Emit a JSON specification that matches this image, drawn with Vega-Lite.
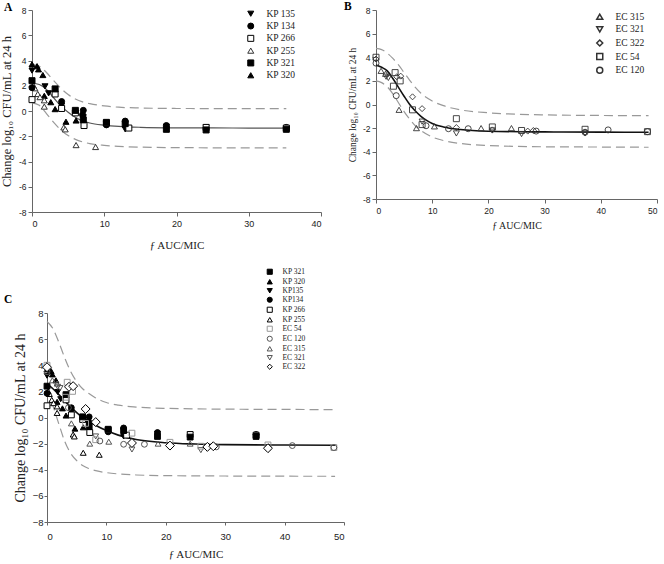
{
"$schema":"https://vega.github.io/schema/vega-lite/v6.json",
"padding":{"left":0,"top":0,"right":0,"bottom":0},
"autosize":{"type":"pad"},
"config":{"view":{"stroke":null},
"axis":{"grid":false,"domainColor":"#666","tickColor":"#666","labelFont":"Liberation Sans","titleFont":"Liberation Serif","titleFontWeight":"normal","labelColor":"#222","titleColor":"#222","tickSize":4},
"title":{"font":"Liberation Serif","fontWeight":"bold","color":"black","orient":"top","anchor":"start","frame":"group","fontSize":11.5},
"legend":{"orient":"none","padding":0,"labelFont":"Liberation Serif","labelColor":"#222","symbolSize":36,"title":null}},
"resolve":{"scale":{"shape":"independent","fill":"independent","stroke":"independent","strokeWidth":"independent"},"legend":{"shape":"independent","fill":"independent","stroke":"independent","strokeWidth":"independent"}},
"align":"none",
"datasets":{
"pts":[
{"s":"KP 320","x":0,"y":3.7},{"s":"KP 320","x":0.7,"y":3.55},{"s":"KP 320","x":0.9,"y":3.3},{"s":"KP 320","x":1.5,"y":2.85},{"s":"KP 320","x":1.7,"y":1.2},{"s":"KP 320","x":2.6,"y":0.7},{"s":"KP 320","x":3.2,"y":0.15},{"s":"KP 320","x":4.7,"y":-0.85},{"s":"KP 320","x":6.1,"y":-0.75},
{"s":"KP 255","x":0.2,"y":2.0},{"s":"KP 255","x":0.4,"y":1.8},{"s":"KP 255","x":0.8,"y":1.35},{"s":"KP 255","x":1.1,"y":1.1},{"s":"KP 255","x":1.7,"y":0.85},{"s":"KP 255","x":1.7,"y":0.35},{"s":"KP 255","x":4.4,"y":-1.3},{"s":"KP 255","x":4.6,"y":-1.45},{"s":"KP 255","x":6.1,"y":-2.7},{"s":"KP 255","x":8.8,"y":-2.85},
{"s":"KP 135","x":0,"y":3.2},{"s":"KP 135","x":1.8,"y":1.95},{"s":"KP 135","x":2.3,"y":1.4},{"s":"KP 135","x":4.1,"y":0.4},{"s":"KP 135","x":7.1,"y":-0.5},{"s":"KP 135","x":10.3,"y":-1.05},{"s":"KP 135","x":12.9,"y":-1.45},{"s":"KP 135","x":18.6,"y":-1.25},{"s":"KP 135","x":24.1,"y":-1.3},
{"s":"KP 134","x":0,"y":1.85},{"s":"KP 134","x":4.1,"y":0.75},{"s":"KP 134","x":7.1,"y":0.05},{"s":"KP 134","x":7.0,"y":-0.3},{"s":"KP 134","x":10.3,"y":-1.1},{"s":"KP 134","x":12.9,"y":-0.8},{"s":"KP 134","x":18.6,"y":-1.15},{"s":"KP 134","x":35.2,"y":-1.3},
{"s":"KP 266","x":0,"y":0.9},{"s":"KP 266","x":3.2,"y":1.35},{"s":"KP 266","x":4.1,"y":0.2},{"s":"KP 266","x":6.0,"y":-0.15},{"s":"KP 266","x":7.2,"y":-1.15},{"s":"KP 266","x":10.3,"y":-0.95},{"s":"KP 266","x":13.4,"y":-1.35},{"s":"KP 266","x":24.1,"y":-1.3},{"s":"KP 266","x":35.2,"y":-1.35},
{"s":"KP 321","x":0,"y":2.4},{"s":"KP 321","x":3.2,"y":1.75},{"s":"KP 321","x":6.0,"y":0.05},{"s":"KP 321","x":7.1,"y":-0.7},{"s":"KP 321","x":10.3,"y":-0.9},{"s":"KP 321","x":12.9,"y":-1.0},{"s":"KP 321","x":18.6,"y":-1.45},{"s":"KP 321","x":24.1,"y":-1.5},{"s":"KP 321","x":35.2,"y":-1.45},
{"s":"EC 315","x":0.9,"y":2.85},{"s":"EC 315","x":1.7,"y":2.6},{"s":"EC 315","x":4.1,"y":-0.45},{"s":"EC 315","x":7.2,"y":-2.0},{"s":"EC 315","x":10.4,"y":-1.85},{"s":"EC 315","x":18.7,"y":-2.0},{"s":"EC 315","x":24.1,"y":-2.0},
{"s":"EC 321","x":1.8,"y":2.35},{"s":"EC 321","x":2.2,"y":2.25},{"s":"EC 321","x":8.2,"y":-1.45},{"s":"EC 321","x":14.3,"y":-2.45},{"s":"EC 321","x":20.7,"y":-2.2},{"s":"EC 321","x":25.9,"y":-2.5},{"s":"EC 321","x":37.2,"y":-2.45},
{"s":"EC 322","x":0,"y":3.85},{"s":"EC 322","x":3.7,"y":2.35},{"s":"EC 322","x":4.4,"y":2.4},{"s":"EC 322","x":6.5,"y":0.65},{"s":"EC 322","x":8.2,"y":-0.35},{"s":"EC 322","x":14.3,"y":-1.95},{"s":"EC 322","x":20.7,"y":-2.15},{"s":"EC 322","x":27.0,"y":-2.25},{"s":"EC 322","x":28.0,"y":-2.2},{"s":"EC 322","x":37.2,"y":-2.35},
{"s":"EC 54","x":0,"y":4.0},{"s":"EC 54","x":3.4,"y":2.7},{"s":"EC 54","x":3.1,"y":1.55},{"s":"EC 54","x":4.3,"y":2.0},{"s":"EC 54","x":6.5,"y":-0.45},{"s":"EC 54","x":8.2,"y":-1.7},{"s":"EC 54","x":14.3,"y":-1.2},{"s":"EC 54","x":20.7,"y":-1.9},{"s":"EC 54","x":25.9,"y":-2.2},{"s":"EC 54","x":37.2,"y":-2.1},{"s":"EC 54","x":48.3,"y":-2.3},
{"s":"EC 120","x":0,"y":3.5},{"s":"EC 120","x":3.6,"y":0.75},{"s":"EC 120","x":8.9,"y":-1.8},{"s":"EC 120","x":12.9,"y":-2.05},{"s":"EC 120","x":16.4,"y":-2.05},{"s":"EC 120","x":28.5,"y":-2.25},{"s":"EC 120","x":37.2,"y":-2.35},{"s":"EC 120","x":41.3,"y":-2.15},{"s":"EC 120","x":48.3,"y":-2.3}
],
"curves":[
{"p":"A","c":"fit","x":0,"y":2.2},{"p":"A","c":"fit","x":1,"y":2.1},{"p":"A","c":"fit","x":2,"y":1.7},{"p":"A","c":"fit","x":3,"y":1.05},{"p":"A","c":"fit","x":4,"y":0.4},{"p":"A","c":"fit","x":5,"y":-0.1},{"p":"A","c":"fit","x":6,"y":-0.5},{"p":"A","c":"fit","x":7,"y":-0.78},{"p":"A","c":"fit","x":8,"y":-0.95},{"p":"A","c":"fit","x":10,"y":-1.12},{"p":"A","c":"fit","x":12,"y":-1.22},{"p":"A","c":"fit","x":15,"y":-1.29},{"p":"A","c":"fit","x":20,"y":-1.33},{"p":"A","c":"fit","x":25,"y":-1.34},{"p":"A","c":"fit","x":30,"y":-1.35},{"p":"A","c":"fit","x":35.2,"y":-1.35},
{"p":"A","c":"up","x":0,"y":3.7},{"p":"A","c":"up","x":1,"y":3.55},{"p":"A","c":"up","x":2,"y":3.05},{"p":"A","c":"up","x":3,"y":2.4},{"p":"A","c":"up","x":4,"y":1.8},{"p":"A","c":"up","x":5,"y":1.3},{"p":"A","c":"up","x":6,"y":0.95},{"p":"A","c":"up","x":7,"y":0.72},{"p":"A","c":"up","x":8,"y":0.58},{"p":"A","c":"up","x":10,"y":0.4},{"p":"A","c":"up","x":12,"y":0.3},{"p":"A","c":"up","x":15,"y":0.24},{"p":"A","c":"up","x":20,"y":0.2},{"p":"A","c":"up","x":30,"y":0.19},{"p":"A","c":"up","x":35.2,"y":0.19},
{"p":"A","c":"lo","x":0,"y":0.65},{"p":"A","c":"lo","x":1,"y":0.45},{"p":"A","c":"lo","x":2,"y":-0.2},{"p":"A","c":"lo","x":3,"y":-0.9},{"p":"A","c":"lo","x":4,"y":-1.5},{"p":"A","c":"lo","x":5,"y":-1.95},{"p":"A","c":"lo","x":6,"y":-2.25},{"p":"A","c":"lo","x":7,"y":-2.45},{"p":"A","c":"lo","x":8,"y":-2.58},{"p":"A","c":"lo","x":10,"y":-2.72},{"p":"A","c":"lo","x":12,"y":-2.8},{"p":"A","c":"lo","x":15,"y":-2.86},{"p":"A","c":"lo","x":20,"y":-2.9},{"p":"A","c":"lo","x":30,"y":-2.92},{"p":"A","c":"lo","x":35.2,"y":-2.92},
{"p":"B","c":"fit","x":0,"y":3.35},{"p":"B","c":"fit","x":1,"y":3.15},{"p":"B","c":"fit","x":2,"y":2.85},{"p":"B","c":"fit","x":3,"y":2.2},{"p":"B","c":"fit","x":4,"y":1.45},{"p":"B","c":"fit","x":5,"y":0.7},{"p":"B","c":"fit","x":6,"y":0.0},{"p":"B","c":"fit","x":7,"y":-0.55},{"p":"B","c":"fit","x":8,"y":-1.0},{"p":"B","c":"fit","x":9,"y":-1.35},{"p":"B","c":"fit","x":10,"y":-1.6},{"p":"B","c":"fit","x":12,"y":-1.9},{"p":"B","c":"fit","x":15,"y":-2.12},{"p":"B","c":"fit","x":20,"y":-2.26},{"p":"B","c":"fit","x":30,"y":-2.32},{"p":"B","c":"fit","x":40,"y":-2.34},{"p":"B","c":"fit","x":48.5,"y":-2.35},
{"p":"B","c":"up","x":0,"y":4.75},{"p":"B","c":"up","x":1,"y":4.65},{"p":"B","c":"up","x":2,"y":4.35},{"p":"B","c":"up","x":3,"y":3.9},{"p":"B","c":"up","x":4,"y":3.35},{"p":"B","c":"up","x":5,"y":2.7},{"p":"B","c":"up","x":6,"y":2.05},{"p":"B","c":"up","x":7,"y":1.45},{"p":"B","c":"up","x":8,"y":0.95},{"p":"B","c":"up","x":10,"y":0.3},{"p":"B","c":"up","x":12,"y":-0.1},{"p":"B","c":"up","x":15,"y":-0.45},{"p":"B","c":"up","x":20,"y":-0.7},{"p":"B","c":"up","x":30,"y":-0.88},{"p":"B","c":"up","x":40,"y":-0.93},{"p":"B","c":"up","x":48.5,"y":-0.95},
{"p":"B","c":"lo","x":0,"y":2.0},{"p":"B","c":"lo","x":1,"y":1.85},{"p":"B","c":"lo","x":2,"y":1.5},{"p":"B","c":"lo","x":3,"y":0.9},{"p":"B","c":"lo","x":4,"y":0.15},{"p":"B","c":"lo","x":5,"y":-0.6},{"p":"B","c":"lo","x":6,"y":-1.25},{"p":"B","c":"lo","x":7,"y":-1.8},{"p":"B","c":"lo","x":8,"y":-2.2},{"p":"B","c":"lo","x":10,"y":-2.75},{"p":"B","c":"lo","x":12,"y":-3.05},{"p":"B","c":"lo","x":15,"y":-3.3},{"p":"B","c":"lo","x":20,"y":-3.47},{"p":"B","c":"lo","x":30,"y":-3.58},{"p":"B","c":"lo","x":40,"y":-3.6},{"p":"B","c":"lo","x":48.5,"y":-3.62},
{"p":"C","c":"fit","x":0,"y":2.6},{"p":"C","c":"fit","x":1,"y":2.2},{"p":"C","c":"fit","x":2,"y":1.75},{"p":"C","c":"fit","x":3,"y":1.25},{"p":"C","c":"fit","x":4,"y":0.8},{"p":"C","c":"fit","x":5,"y":0.38},{"p":"C","c":"fit","x":6,"y":0.0},{"p":"C","c":"fit","x":7,"y":-0.3},{"p":"C","c":"fit","x":8,"y":-0.55},{"p":"C","c":"fit","x":10,"y":-1.0},{"p":"C","c":"fit","x":12,"y":-1.35},{"p":"C","c":"fit","x":15,"y":-1.68},{"p":"C","c":"fit","x":20,"y":-1.93},{"p":"C","c":"fit","x":25,"y":-2.03},{"p":"C","c":"fit","x":30,"y":-2.08},{"p":"C","c":"fit","x":40,"y":-2.11},{"p":"C","c":"fit","x":48.5,"y":-2.12},
{"p":"C","c":"up","x":0,"y":7.35},{"p":"C","c":"up","x":1,"y":6.8},{"p":"C","c":"up","x":2,"y":5.75},{"p":"C","c":"up","x":3,"y":4.55},{"p":"C","c":"up","x":4,"y":3.5},{"p":"C","c":"up","x":5,"y":2.75},{"p":"C","c":"up","x":6,"y":2.2},{"p":"C","c":"up","x":7,"y":1.85},{"p":"C","c":"up","x":8,"y":1.55},{"p":"C","c":"up","x":10,"y":1.15},{"p":"C","c":"up","x":12,"y":0.95},{"p":"C","c":"up","x":15,"y":0.8},{"p":"C","c":"up","x":20,"y":0.7},{"p":"C","c":"up","x":30,"y":0.64},{"p":"C","c":"up","x":40,"y":0.62},{"p":"C","c":"up","x":48.5,"y":0.6},
{"p":"C","c":"lo","x":0,"y":2.2},{"p":"C","c":"lo","x":1,"y":0.9},{"p":"C","c":"lo","x":2,"y":-0.5},{"p":"C","c":"lo","x":3,"y":-1.85},{"p":"C","c":"lo","x":4,"y":-2.75},{"p":"C","c":"lo","x":5,"y":-3.3},{"p":"C","c":"lo","x":6,"y":-3.68},{"p":"C","c":"lo","x":7,"y":-3.9},{"p":"C","c":"lo","x":8,"y":-4.05},{"p":"C","c":"lo","x":10,"y":-4.22},{"p":"C","c":"lo","x":12,"y":-4.32},{"p":"C","c":"lo","x":15,"y":-4.4},{"p":"C","c":"lo","x":20,"y":-4.45},{"p":"C","c":"lo","x":30,"y":-4.48},{"p":"C","c":"lo","x":48.5,"y":-4.5}
]},
"spacing":18,
"vconcat":[
{"hconcat":[
{"width":289,"height":202,
"title":{"text":"A","offset":-7,"dx":-28},
"encoding":{
"x":{"field":"x","type":"quantitative","scale":{"domain":[0,40],"nice":false},"axis":{"title":"ƒ AUC/MIC","values":[0,10,20,30,40],"labelFontSize":9,"titleFontSize":11,"labelPadding":3,"titlePadding":11}},
"y":{"field":"y","type":"quantitative","scale":{"domain":[-8,8],"nice":false},"axis":{"title":"Change log₁₀ CFU/mL at 24 h","values":[-8,-6,-4,-2,0,2,4,6,8],"labelExpr":"replace(datum.label,'−','-')","labelFontSize":8.5,"titleFontSize":12.5,"labelPadding":2,"titlePadding":5}}},
"layer":[
{"data":{"name":"curves"},"transform":[{"filter":"datum.p=='A' && datum.c!='fit'"}],"mark":{"type":"line","color":"#999","strokeWidth":1.2,"strokeDash":[9,5],"interpolate":"monotone"},"encoding":{"detail":{"field":"c"}}},
{"data":{"name":"curves"},"transform":[{"filter":"datum.p=='A' && datum.c=='fit'"}],"mark":{"type":"line","color":"#555","strokeWidth":1.2,"interpolate":"monotone"},"encoding":{}},
{"data":{"name":"pts"},"transform":[{"filter":"indexof(datum.s,'KP')==0"}],"mark":{"type":"point","filled":true,"opacity":1,"size":36},
"encoding":{
"shape":{"field":"s","type":"nominal","scale":{"domain":["KP 135","KP 134","KP 266","KP 255","KP 321","KP 320"],"range":["triangle-down","circle","square","triangle-up","square","triangle-up"]},"legend":{"legendX":214,"legendY":-1,"labelFontSize":9.5,"rowPadding":1.3,"labelOffset":11}},
"fill":{"field":"s","type":"nominal","scale":{"domain":["KP 135","KP 134","KP 266","KP 255","KP 321","KP 320"],"range":["black","black","white","white","black","black"]},"legend":{"legendX":214,"legendY":-1,"labelFontSize":9.5,"rowPadding":1.3,"labelOffset":11}},
"stroke":{"field":"s","type":"nominal","scale":{"domain":["KP 135","KP 134","KP 266","KP 255","KP 321","KP 320"],"range":["black","black","black","#333","black","black"]},"legend":{"legendX":214,"legendY":-1,"labelFontSize":9.5,"rowPadding":1.3,"labelOffset":11}},
"strokeWidth":{"field":"s","type":"nominal","scale":{"domain":["KP 135","KP 134","KP 266","KP 255","KP 321","KP 320"],"range":[1,1,1.8,0.8,1,1]},"legend":{"legendX":214,"legendY":-1,"labelFontSize":9.5,"rowPadding":1.3,"labelOffset":11}}
}}
]},
{"width":281,"height":189,
"title":{"text":"B","offset":-6,"dx":-32},
"encoding":{
"x":{"field":"x","type":"quantitative","scale":{"domain":[0,50],"nice":false},"axis":{"title":"ƒ AUC/MIC","values":[0,10,20,30,40,50],"labelFontSize":8.5,"titleFontSize":10,"labelPadding":3,"titlePadding":6}},
"y":{"field":"y","type":"quantitative","scale":{"domain":[-8,8],"nice":false},"axis":{"title":"Change log₁₀ CFU/mL at 24 h","values":[-8,-6,-4,-2,0,2,4,6,8],"labelExpr":"replace(datum.label,'−','-')","labelFontSize":8.5,"titleFontSize":9.5,"labelPadding":2,"titlePadding":5}}},
"layer":[
{"data":{"name":"curves"},"transform":[{"filter":"datum.p=='B' && datum.c!='fit'"}],"mark":{"type":"line","color":"#999","strokeWidth":1.2,"strokeDash":[9,5],"interpolate":"monotone"},"encoding":{"detail":{"field":"c"}}},
{"data":{"name":"curves"},"transform":[{"filter":"datum.p=='B' && datum.c=='fit'"}],"mark":{"type":"line","color":"#111","strokeWidth":1.6,"interpolate":"monotone"},"encoding":{}},
{"data":{"name":"pts"},"transform":[{"filter":"indexof(datum.s,'EC')==0"}],"mark":{"type":"point","filled":false,"opacity":1,"strokeWidth":0.9,"color":"#333","size":36},
"encoding":{
"shape":{"field":"s","type":"nominal","scale":{"domain":["EC 315","EC 321","EC 322","EC 54","EC 120"],"range":["triangle-up","triangle-down","diamond","square","circle"]},"legend":{"legendX":219,"legendY":2,"labelFontSize":9.5,"rowPadding":0.6,"labelOffset":11}}
}}
]}
],"spacing":22,
"resolve":{"scale":{"shape":"independent","fill":"independent","stroke":"independent","strokeWidth":"independent"},"legend":{"shape":"independent","fill":"independent","stroke":"independent","strokeWidth":"independent"}}},
{"hconcat":[
{"width":1,"height":1,"data":{"values":[]},"mark":"point","encoding":{}},
{"width":297,"height":209,
"title":{"text":"C","offset":-37,"dx":-43},
"encoding":{
"x":{"field":"x","type":"quantitative","scale":{"domain":[0,50],"nice":false},"axis":{"title":"ƒ AUC/MIC","values":[0,10,20,30,40,50],"labelFontSize":9.5,"titleFontSize":11,"labelPadding":6,"titlePadding":8,"tickSize":3}},
"y":{"field":"y","type":"quantitative","scale":{"domain":[-8,8],"nice":false},"axis":{"title":"Change log₁₀ CFU/mL at 24 h","values":[-8,-6,-4,-2,0,2,4,6,8],"labelFontSize":9.5,"titleFontSize":14,"labelPadding":1,"titlePadding":5,"tickSize":3}}},
"layer":[
{"data":{"name":"curves"},"transform":[{"filter":"datum.p=='C' && datum.c!='fit'"}],"mark":{"type":"line","color":"#999","strokeWidth":1.2,"strokeDash":[9,5],"interpolate":"monotone"},"encoding":{"detail":{"field":"c"}}},
{"data":{"name":"curves"},"transform":[{"filter":"datum.p=='C' && datum.c=='fit'"}],"mark":{"type":"line","color":"#111","strokeWidth":1.6,"interpolate":"monotone"},"encoding":{}},
{"data":{"name":"pts"},"transform":[{"filter":"datum.s!='EC 322'"}],"mark":{"type":"point","filled":true,"opacity":1,"size":34},
"encoding":{
"shape":{"field":"s","type":"nominal","scale":{"domain":["KP 321","KP 320","KP 135","KP 134","KP 266","KP 255","EC 54","EC 120","EC 315","EC 321","EC 322"],"range":["square","triangle-up","triangle-down","circle","square","triangle-up","square","circle","triangle-up","triangle-down","diamond"]},"legend":{"legendX":219,"legendY":-45,"labelFontSize":7.5,"rowPadding":0,"symbolSize":26,"labelOffset":9,"labelExpr":"replace(datum.label,/KP 13/,'KP13')"}},
"fill":{"field":"s","type":"nominal","scale":{"domain":["KP 321","KP 320","KP 135","KP 134","KP 266","KP 255","EC 54","EC 120","EC 315","EC 321","EC 322"],"range":["black","black","black","black","white","white","transparent","transparent","transparent","transparent","white"]},"legend":{"legendX":219,"legendY":-45,"labelFontSize":7.5,"rowPadding":0,"symbolSize":26,"labelOffset":9,"labelExpr":"replace(datum.label,/KP 13/,'KP13')"}},
"stroke":{"field":"s","type":"nominal","scale":{"domain":["KP 321","KP 320","KP 135","KP 134","KP 266","KP 255","EC 54","EC 120","EC 315","EC 321","EC 322"],"range":["black","black","black","black","black","black","#999","#555","#555","#555","black"]},"legend":{"legendX":219,"legendY":-45,"labelFontSize":7.5,"rowPadding":0,"symbolSize":26,"labelOffset":9,"labelExpr":"replace(datum.label,/KP 13/,'KP13')"}},
"strokeWidth":{"field":"s","type":"nominal","scale":{"domain":["KP 321","KP 320","KP 135","KP 134","KP 266","KP 255","EC 54","EC 120","EC 315","EC 321","EC 322"],"range":[1,1,1,1,1.8,1.6,1,0.9,0.9,0.9,1]},"legend":{"legendX":219,"legendY":-45,"labelFontSize":7.5,"rowPadding":0,"symbolSize":26,"labelOffset":9,"labelExpr":"replace(datum.label,/KP 13/,'KP13')"}}
}},
{"data":{"name":"pts"},"transform":[{"filter":"datum.s=='EC 322'"}],"mark":{"type":"point","shape":"diamond","filled":true,"fill":"white","stroke":"black","strokeWidth":1,"opacity":1,"size":80},"encoding":{}}
]}
],"spacing":14,"bounds":"flush",
"resolve":{"scale":{"shape":"independent","fill":"independent","stroke":"independent","strokeWidth":"independent"},"legend":{"shape":"independent","fill":"independent","stroke":"independent","strokeWidth":"independent"}}}
]
}
